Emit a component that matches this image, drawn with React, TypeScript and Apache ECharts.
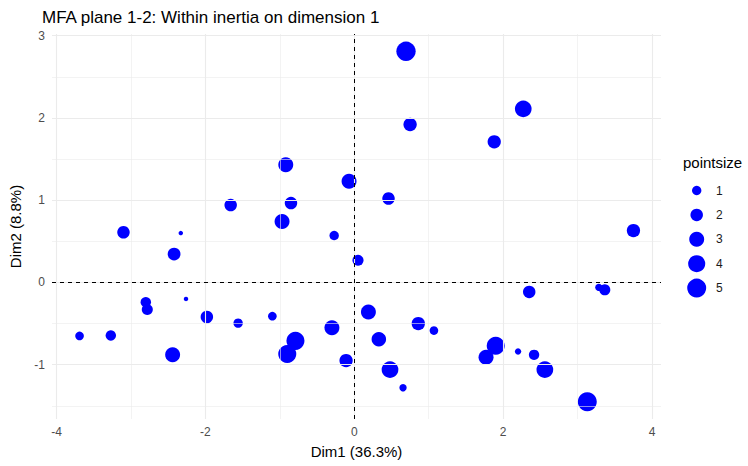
import React, { useEffect, useRef } from "react";
import * as echarts from "echarts";

// ---- data ----
const dim1 = [
  -3.1, -2.42, -2.33, -1.66, -0.92, -0.85, -0.97, -0.07, -0.27, 0.05,
  0.695, 0.75, 1.88, 2.27, 0.46, 3.75,
  -3.69, -3.27, -2.8, -2.78, -2.26, -2.44, -1.98, -1.56, -1.1, -0.79,
  -0.9, -0.3, -0.11, 0.19, 0.33, 0.48, 0.655, 0.86, 1.07, 1.9,
  1.77, 2.2, 2.415, 2.56, 3.13, 2.35, 3.285, 3.365,
];
const dim2 = [
  0.61, 0.345, 0.6, 0.94, 1.43, 0.965, 0.74, 1.23, 0.57, 0.27,
  2.81, 1.92, 1.71, 2.11, 1.02, 0.63,
  -0.65, -0.645, -0.24, -0.33, -0.2, -0.88, -0.42, -0.495, -0.41, -0.71,
  -0.87, -0.55, -0.95, -0.36, -0.69, -1.06, -1.28, -0.5, -0.585, -0.77,
  -0.91, -0.84, -0.88, -1.06, -1.45, -0.115, -0.06, -0.09,
];
const pointsize = [
  2, 2.1, 0, 2, 3, 2, 3, 3, 1, 1.5,
  5.2, 2.3, 2.3, 3.8, 2, 2.3,
  0.8, 1.3, 1.3, 1.5, 0, 3, 2, 1, 0.8, 4.5,
  4.5, 3, 2.3, 3, 2.8, 3.8, 0.5, 2.3, 0.8, 4.5,
  3, 0.3, 1.3, 3.8, 5, 2, 0.5, 1.5,
];
const xTicks = [-4, -2, 0, 2, 4];
const yTicks = [-1, 0, 1, 2, 3];
const xMinor = [-3, -1, 1, 3];
const yMinor = [-1.5, -0.5, 0.5, 1.5, 2.5];
const legendBreaks = [1, 2, 3, 4, 5];

const FONT = "'Liberation Sans', Arial, Helvetica, sans-serif";
const symbolDiameter = (v: number) => Math.sqrt(20 + 68 * Math.max(v, 0));

export default function App() {
  const ref = useRef<HTMLDivElement>(null);
  useEffect(() => {
    if (!ref.current) return;
    const chart = echarts.init(ref.current, null, { renderer: "svg" });
    const points = dim1.map((x, i) => [x, dim2[i], pointsize[i]]);

    const gridLine = (axis: "xAxis" | "yAxis", v: number, width: number) => ({
      [axis]: v,
      lineStyle: { color: "#EBEBEB", width, type: "solid" },
    });

    const legendTop = 190.5;
    const legendStep = 24.4;
    const legendX = 696.7;

    const graphics: any[] = [
      {
        type: "text",
        left: 683,
        top: 155,
        style: { text: "pointsize", font: `15px ${FONT}`, fill: "#000" },
      },
    ];
    legendBreaks.forEach((b, i) => {
      const cy = legendTop + i * legendStep;
      graphics.push({
        type: "circle",
        shape: { cx: legendX, cy, r: symbolDiameter(b) / 2 },
        style: { fill: "#0000FF" },
      });
      graphics.push({
        type: "text",
        x: 716,
        y: cy,
        style: {
          text: String(b),
          font: `12px ${FONT}`,
          fill: "#1A1A1A",
          verticalAlign: "middle",
        },
      });
    });

    chart.setOption({
      animation: false,
      backgroundColor: "#FFFFFF",
      title: {
        text: "MFA plane 1-2: Within inertia on dimension 1",
        left: 37,
        top: 4,
        textStyle: { fontFamily: FONT, fontSize: 17, fontWeight: "normal", color: "#000" },
      },
      grid: { left: 52, right: 87, top: 34, bottom: 47, containLabel: false },
      xAxis: {
        type: "value",
        min: -4.06,
        max: 4.12,
        name: "Dim1 (36.3%)",
        nameLocation: "middle",
        nameGap: 25,
        nameTextStyle: { fontFamily: FONT, fontSize: 15, color: "#000" },
        axisLine: { show: false },
        axisTick: { show: true, length: 4, customValues: xTicks, lineStyle: { color: "#333333", width: 1 } },
        axisLabel: {
          customValues: xTicks,
          margin: 7,
          fontFamily: FONT,
          fontSize: 12,
          color: "#4D4D4D",
        },
        splitLine: { show: false },
      },
      yAxis: {
        type: "value",
        min: -1.66,
        max: 3.02,
        name: "Dim2 (8.8%)",
        nameLocation: "middle",
        nameGap: 22,
        nameTextStyle: { fontFamily: FONT, fontSize: 15, color: "#000" },
        axisLine: { show: false },
        axisTick: { show: true, length: 4, customValues: yTicks, lineStyle: { color: "#333333", width: 1 } },
        axisLabel: {
          customValues: yTicks,
          margin: 7,
          fontFamily: FONT,
          fontSize: 12,
          color: "#4D4D4D",
        },
        splitLine: { show: false },
      },
      graphic: graphics,
      series: [
        {
          type: "scatter",
          data: [],
          z: 1,
          silent: true,
          markLine: {
            silent: true,
            symbol: ["none", "none"],
            label: { show: false },
            emphasis: { disabled: true },
            data: [
              ...xMinor.map((v) => gridLine("xAxis", v, 0.6)),
              ...yMinor.map((v) => gridLine("yAxis", v, 0.6)),
              ...xTicks.map((v) => gridLine("xAxis", v, 1.1)),
              ...yTicks.map((v) => gridLine("yAxis", v, 1.1)),
            ],
          },
        },
        {
          type: "scatter",
          data: [],
          z: 2,
          silent: true,
          markLine: {
            silent: true,
            symbol: ["none", "none"],
            label: { show: false },
            emphasis: { disabled: true },
            lineStyle: { color: "#000000", width: 1, type: [4, 4] },
            data: [{ xAxis: 0 }, { yAxis: 0 }],
          },
        },
        {
          type: "scatter",
          z: 3,
          data: points,
          symbol: "circle",
          symbolSize: (d: number[]) => symbolDiameter(d[2]),
          itemStyle: { color: "#0000FF", opacity: 1 },
          emphasis: { disabled: true },
        },
      ],
    });
    return () => chart.dispose();
  }, []);
  return (
    <div
      ref={ref}
      style={{ position: "absolute", left: 0, top: 0, width: 748, height: 466 }}
    />
  );
}
